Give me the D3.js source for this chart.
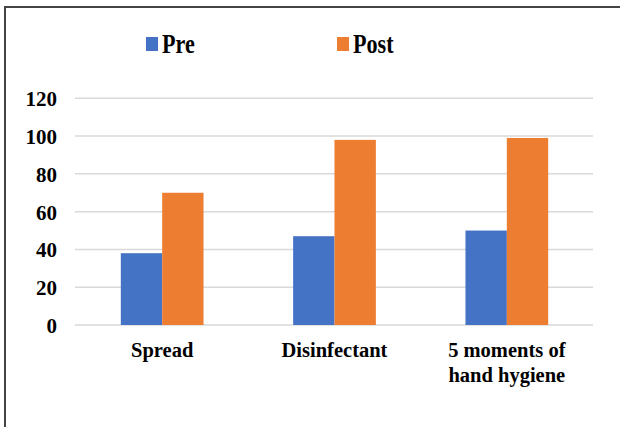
<!DOCTYPE html>
<html><head><meta charset="utf-8">
<script src="https://cdn.jsdelivr.net/npm/d3@7"></script>
<style>html,body{margin:0;padding:0;background:#fff;}svg{display:block;}</style>
</head><body>
<svg id="chart" width="620" height="427"></svg>
<script>
const categories = [["Spread"], ["Disinfectant"], ["5 moments of", "hand hygiene"]];
const seriesNames = ["Pre", "Post"];
const preValues = [38, 47, 50];
const postValues = [70, 98, 99];
const yTicks = [0, 20, 40, 60, 80, 100, 120];
const colors = ["#4472C4", "#ED7D31"];
const FONT = '"Liberation Serif"';

const svg = d3.select("#chart");

// frame lines (top and left)
svg.append("line").attr("x1", 4).attr("x2", 620).attr("y1", 7).attr("y2", 7)
  .attr("stroke", "#444").attr("stroke-width", 2);
svg.append("line").attr("x1", 5).attr("x2", 5).attr("y1", 6).attr("y2", 427)
  .attr("stroke", "#444").attr("stroke-width", 2);

const x0 = d3.scaleBand().domain(d3.range(categories.length)).range([76, 593]).paddingInner(0.52).paddingOuter(0.26);
const x1 = d3.scaleBand().domain(seriesNames).range([0, x0.bandwidth()]);
const y = d3.scaleLinear().domain([0, 120]).range([325, 98.3]);

// gridlines
svg.append("g").selectAll("line").data(yTicks).join("line")
  .attr("x1", 75).attr("x2", 593)
  .attr("y1", d => y(d)).attr("y2", d => y(d))
  .attr("stroke", "#d9d9d9").attr("stroke-width", 1.5);

// y axis labels
const yAxis = d3.axisLeft(y).tickValues(yTicks).tickSize(0).tickPadding(0);
const ya = svg.append("g").attr("transform", "translate(57,0)").call(yAxis);
ya.select(".domain").remove();
ya.selectAll("text")
  .style("font-family", FONT).style("font-weight", "bold").style("font-size", "21px")
  .attr("fill", "#000").attr("dy", "0.36em");

// bars
const data = categories.map((c, i) => ({i, vals: [preValues[i], postValues[i]]}));
const groups = svg.append("g").selectAll("g").data(data).join("g")
  .attr("transform", d => `translate(${x0(d.i)},0)`);
groups.selectAll("rect").data(d => d.vals.map((v, k) => ({v, k}))).join("rect")
  .attr("x", d => x1(seriesNames[d.k]))
  .attr("width", x1.bandwidth())
  .attr("y", d => y(d.v))
  .attr("height", d => y(0) - y(d.v))
  .attr("fill", d => colors[d.k]);

// category labels
const cl = svg.append("g").selectAll("text").data(categories).join("text")
  .attr("x", (d, i) => x0(i) + x0.bandwidth() / 2)
  .attr("y", 357)
  .attr("text-anchor", "middle")
  .style("font-family", FONT).style("font-weight", "bold").style("font-size", "20.5px")
  .attr("fill", "#000");
cl.selectAll("tspan").data(d => d).join("tspan")
  .attr("x", function() { return this.parentNode.getAttribute("x"); })
  .attr("dy", (d, j) => j === 0 ? 0 : 25)
  .text(d => d);

// legend
const legendX = [146, 337];
const lg = svg.append("g").selectAll("g").data(seriesNames).join("g")
  .attr("transform", (d, i) => `translate(${legendX[i]},0)`);
lg.append("rect").attr("x", 0).attr("y", 37).attr("width", 12).attr("height", 14)
  .attr("fill", (d, i) => colors[i]);
lg.append("text").attr("transform", "translate(16,52.5) scale(0.82,1)")
  .style("font-family", FONT).style("font-weight", "bold").style("font-size", "27px")
  .attr("fill", "#000")
  .text(d => d);
</script>
</body></html>
